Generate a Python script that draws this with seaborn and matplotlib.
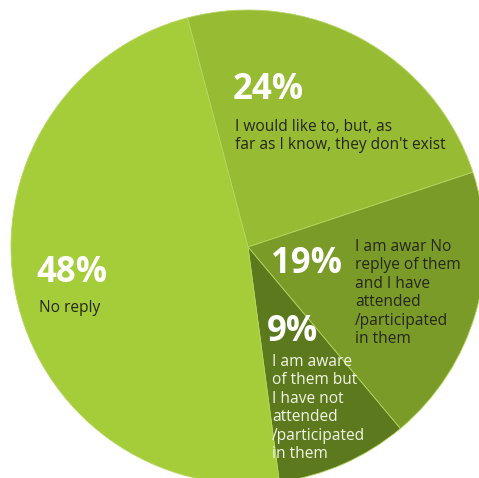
import matplotlib
matplotlib.use("Agg")
import matplotlib.pyplot as plt
import seaborn as sns

sns.set_theme(style="white")
plt.rcParams['font.family'] = ['Open Sans', 'DejaVu Sans']

# Data
values = [24, 19, 9, 48]
pct_labels = ["24%", "19%", "9%", "48%"]
descriptions = [
    "I would like to, but, as\nfar as I know, they don't exist",
    "I am awar No\nreplye of them\nand I have\nattended\n/participated\nin them",
    "I am aware\nof them but\nI have not\nattended\n/participated\nin them",
    "No reply",
]
colors = ["#97bc33", "#7b9b28", "#5c7a1d", "#a5cd39"]
desc_colors = ["#26261a", "#26261a", "#f2f5e6", "#26261a"]

W, H = 479, 478
fig = plt.figure(figsize=(W / 100, H / 100), dpi=100)
ax = fig.add_axes([0, 0, 1, 1])

cx, cy, r = 248, H - 247, 237
ax.pie(values, colors=colors, startangle=104.8, counterclock=False,
       center=(cx, cy), radius=r, frame=True,
       wedgeprops=dict(linewidth=0.6, edgecolor="#b5d560"))
ax.set_xlim(0, W)
ax.set_ylim(0, H)
ax.set_aspect("equal")
ax.axis("off")

# label placements (pixel coords, top-left anchored)
pct_pos = [(233, 72), (271, 246), (267, 314), (36, 255)]
desc_pos = [(235, 119), (355, 239), (272, 354), (39, 300)]

for i in range(len(values)):
    px, py = pct_pos[i]
    ax.text(px, H - py, pct_labels[i], fontsize=25, fontweight="bold",
            color="white", ha="left", va="top")
    dx, dy = desc_pos[i]
    ax.text(dx, H - dy, descriptions[i], fontsize=11.2, color=desc_colors[i],
            ha="left", va="top", linespacing=1.2)

fig.savefig("out.png", dpi=100)
